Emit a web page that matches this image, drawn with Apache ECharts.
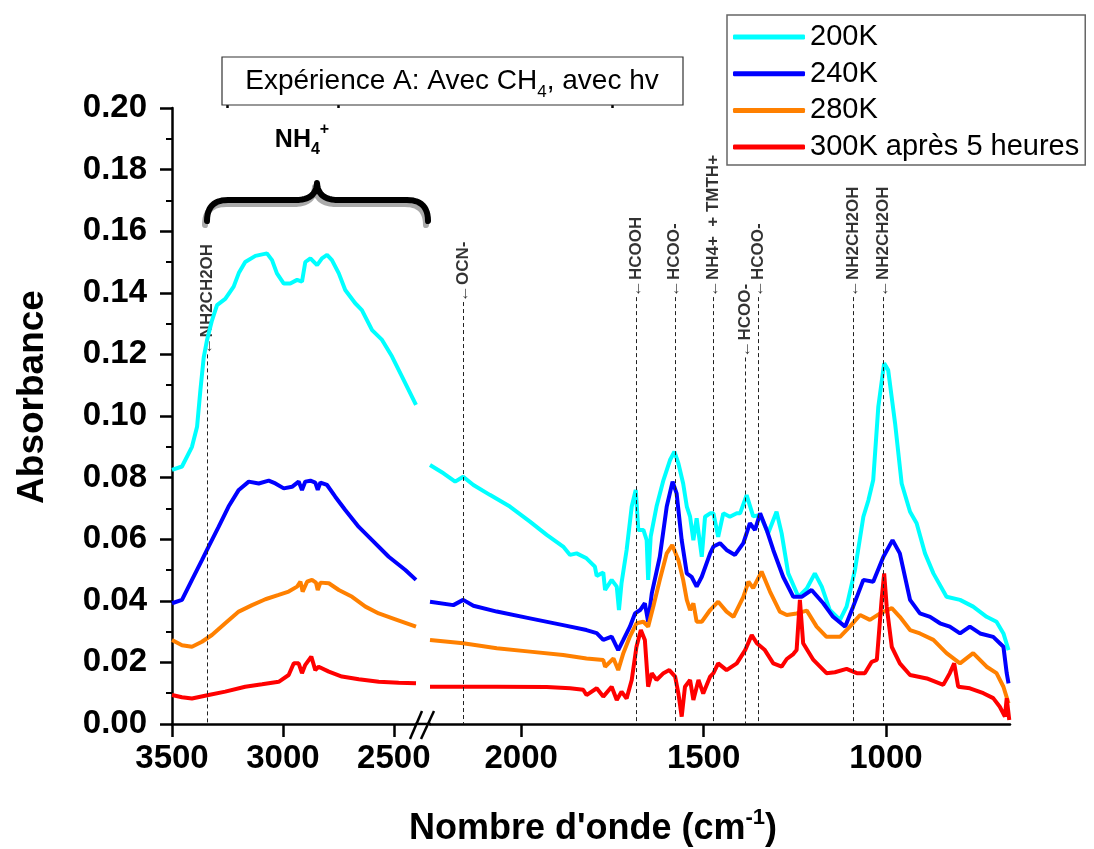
<!DOCTYPE html>
<html><head><meta charset="utf-8">
<script src="https://cdn.jsdelivr.net/npm/echarts@6/dist/echarts.min.js"></script>
<style>html,body{margin:0;padding:0;background:#fff}#c{width:1094px;height:849px}</style>
</head><body><div id="c"></div>
<script>
const seriesNames = ['200K', '240K', '280K', '300K après 5 heures'];
const seriesColors = ['#00FFFF', '#0000FF', '#FF8000', '#FF0000'];

// Left panel (3500 - 2400 cm-1): [wavenumber, absorbance]
const cyanLeft = [[3500,0.0825],[3455,0.0836],[3410,0.090],[3387,0.0965],[3372,0.1084],[3357,0.119],[3342,0.1247],[3320,0.131],[3297,0.136],[3260,0.138],[3222,0.142],[3199,0.1464],[3170,0.150],[3124,0.152],[3072,0.1528],[3049,0.1506],[3027,0.1463],[2996,0.143],[2967,0.143],[2936,0.1442],[2914,0.1436],[2899,0.150],[2876,0.1512],[2846,0.149],[2824,0.1512],[2801,0.1523],[2779,0.1506],[2748,0.1463],[2719,0.1409],[2674,0.1366],[2644,0.1344],[2598,0.1279],[2553,0.1247],[2508,0.1193],[2463,0.1128],[2400,0.1036]];
const blueLeft = [[3500,0.0392],[3455,0.0403],[3410,0.0468],[3365,0.0532],[3335,0.0576],[3290,0.064],[3245,0.0706],[3199,0.076],[3154,0.0787],[3109,0.0781],[3064,0.079],[3034,0.0781],[2996,0.0765],[2959,0.077],[2929,0.0787],[2914,0.076],[2899,0.0787],[2876,0.079],[2854,0.0784],[2843,0.076],[2831,0.0784],[2801,0.0776],[2764,0.0738],[2719,0.0695],[2658,0.064],[2598,0.0597],[2523,0.0543],[2448,0.05],[2400,0.0468]];
const orangeLeft = [[3500,0.0273],[3455,0.0256],[3410,0.0251],[3365,0.0267],[3320,0.0289],[3260,0.0327],[3199,0.0365],[3139,0.0386],[3079,0.0405],[3019,0.0419],[2974,0.043],[2936,0.0446],[2921,0.0462],[2911,0.043],[2891,0.0462],[2869,0.0468],[2851,0.0459],[2843,0.0435],[2831,0.0459],[2793,0.0457],[2748,0.0435],[2688,0.0413],[2628,0.0381],[2568,0.0359],[2493,0.034],[2400,0.0316]];
const redLeft = [[3500,0.0094],[3455,0.0087],[3410,0.0083],[3335,0.0094],[3260,0.0105],[3170,0.0121],[3094,0.0129],[3019,0.0137],[2974,0.0159],[2951,0.0197],[2929,0.0197],[2914,0.0165],[2899,0.0192],[2872,0.0219],[2854,0.0175],[2839,0.0186],[2793,0.017],[2734,0.0154],[2658,0.0145],[2568,0.0137],[2478,0.0134],[2400,0.0132]];

// Right panel (2250 - 660 cm-1)
const cyanRight = [[2250,0.0841],[2213,0.0814],[2181,0.0787],[2159,0.0803],[2131,0.0776],[2086,0.0744],[2031,0.0706],[1976,0.0657],[1930,0.0614],[1885,0.0576],[1866,0.0549],[1848,0.0554],[1821,0.0538],[1798,0.0511],[1793,0.0481],[1775,0.0492],[1770,0.0435],[1752,0.0468],[1738,0.0446],[1732,0.037],[1725,0.0457],[1711,0.0565],[1697,0.0706],[1686,0.076],[1679,0.063],[1665,0.063],[1656,0.0597],[1652,0.0468],[1645,0.0608],[1629,0.0706],[1610,0.0792],[1592,0.0857],[1580,0.0884],[1569,0.0846],[1556,0.0781],[1546,0.0706],[1537,0.0673],[1528,0.0597],[1519,0.0668],[1505,0.0543],[1496,0.0673],[1482,0.0684],[1473,0.0684],[1460,0.0608],[1446,0.0684],[1428,0.0673],[1409,0.0684],[1400,0.0684],[1382,0.0743],[1364,0.0674],[1345,0.0679],[1323,0.0619],[1300,0.0689],[1286,0.0619],[1268,0.0489],[1240,0.0413],[1217,0.044],[1195,0.0489],[1176,0.0446],[1154,0.037],[1126,0.0338],[1108,0.0381],[1085,0.05],[1062,0.0673],[1048,0.0727],[1035,0.0792],[1021,0.103],[1005,0.1171],[994,0.1149],[975,0.0976],[957,0.0781],[934,0.0689],[916,0.0652],[893,0.0554],[870,0.0489],[834,0.0413],[797,0.0403],[761,0.0381],[724,0.0348],[697,0.0332],[678,0.0294],[664,0.024]];
const blueRight = [[2250,0.0397],[2186,0.0386],[2159,0.0403],[2131,0.0384],[2067,0.0365],[1976,0.0343],[1885,0.0321],[1821,0.0305],[1793,0.0295],[1775,0.0273],[1752,0.0284],[1734,0.024],[1720,0.0273],[1702,0.0316],[1688,0.0359],[1674,0.037],[1661,0.0392],[1652,0.0332],[1642,0.0424],[1620,0.0543],[1601,0.0706],[1585,0.0787],[1574,0.0749],[1560,0.0597],[1546,0.0489],[1533,0.0478],[1519,0.0446],[1505,0.0478],[1482,0.0554],[1473,0.0576],[1455,0.0587],[1437,0.0565],[1414,0.0549],[1391,0.0587],[1373,0.0652],[1359,0.063],[1345,0.0684],[1327,0.063],[1309,0.0565],[1282,0.0478],[1254,0.0413],[1231,0.0413],[1204,0.0435],[1172,0.0392],[1145,0.0348],[1112,0.0316],[1090,0.0381],[1062,0.0468],[1035,0.0462],[1007,0.0543],[982,0.0597],[962,0.0554],[934,0.0403],[907,0.0359],[879,0.0348],[852,0.0327],[825,0.0316],[797,0.0294],[770,0.0316],[742,0.0294],[706,0.0283],[678,0.0251],[669,0.0165],[664,0.0132]];
const orangeRight = [[2250,0.0273],[2159,0.0262],[2067,0.0246],[1976,0.0235],[1885,0.0224],[1821,0.0213],[1775,0.0208],[1770,0.0186],[1747,0.0213],[1734,0.0175],[1720,0.023],[1702,0.0284],[1684,0.0327],[1665,0.0332],[1652,0.0316],[1638,0.0381],[1620,0.0468],[1601,0.0554],[1586,0.0581],[1569,0.0532],[1556,0.0468],[1546,0.0403],[1537,0.037],[1528,0.0392],[1519,0.0332],[1505,0.0332],[1482,0.037],[1473,0.0381],[1460,0.0397],[1437,0.0365],[1418,0.0348],[1391,0.0413],[1377,0.0462],[1364,0.0441],[1341,0.0495],[1318,0.043],[1291,0.0365],[1272,0.0354],[1245,0.0359],[1217,0.0368],[1190,0.0316],[1163,0.0283],[1126,0.0283],[1099,0.0316],[1071,0.0354],[1044,0.0338],[1016,0.0359],[984,0.0376],[962,0.0348],[934,0.0305],[907,0.0294],[870,0.0273],[834,0.023],[797,0.0197],[761,0.023],[724,0.0186],[697,0.0165],[678,0.0121],[664,0.0067]];
const redRight = [[2250,0.0121],[2067,0.0121],[1930,0.012],[1866,0.0116],[1830,0.0111],[1821,0.0094],[1793,0.0116],[1775,0.0089],[1752,0.0121],[1738,0.0078],[1725,0.0105],[1711,0.0083],[1697,0.0143],[1684,0.0251],[1672,0.0305],[1661,0.0273],[1652,0.0121],[1642,0.0165],[1629,0.0143],[1610,0.0165],[1594,0.0175],[1578,0.0154],[1569,0.0099],[1560,0.0024],[1551,0.0121],[1537,0.0143],[1528,0.0078],[1514,0.0143],[1501,0.0099],[1482,0.0154],[1473,0.0165],[1460,0.0197],[1437,0.0175],[1409,0.0197],[1386,0.024],[1368,0.0289],[1354,0.0262],[1332,0.024],[1309,0.0197],[1286,0.0186],[1272,0.0211],[1254,0.0227],[1245,0.024],[1236,0.0403],[1227,0.0262],[1199,0.0208],[1163,0.0165],[1140,0.0168],[1108,0.0179],[1080,0.0165],[1058,0.0165],[1039,0.0202],[1025,0.0208],[1012,0.0403],[1005,0.0489],[998,0.0381],[984,0.025],[962,0.0197],[934,0.0159],[888,0.0148],[843,0.0127],[825,0.0165],[813,0.0197],[802,0.0121],[770,0.0116],[733,0.01],[706,0.0084],[688,0.0056],[674,0.0024],[669,0.0084],[662,0.0013]];

const leftData = [cyanLeft, blueLeft, orangeLeft, redLeft];
const rightData = [cyanRight, blueRight, orangeRight, redRight];

// Axis ticks
const xTicksLeft = [3500, 3000, 2500];
const xMinorLeft = [3250, 2750];
const xTicksRight = [2000, 1500, 1000];
const xMinorRight = [1750, 1250, 750];
const xRangeLeft = [2400, 3500];
const xRangeRight = [660, 2250];
const yRange = [0, 0.2];
const yStep = 0.02;

// Peak annotations: name, wavenumber, arrow-top absorbance, panel (0 left, 1 right)
const annotNames = ['NH2CH2OH', 'OCN-', 'HCOOH', 'HCOO-', 'NH4+  + TMTH+', 'HCOO-', 'HCOO-', 'NH2CH2OH', 'NH2CH2OH'];
const annotX = [3340, 2160, 1685, 1579, 1474, 1385, 1350, 1089, 1007];
const annotTop = [0.120, 0.137, 0.1386, 0.1386, 0.1386, 0.119, 0.1386, 0.1386, 0.1386];
const annotPanel = [0, 1, 1, 1, 1, 1, 1, 1, 1];

const FONT = 'Liberation Sans, Arial, Helvetica, sans-serif';
const chart = echarts.init(document.getElementById('c'), null, {renderer: 'canvas'});

const gridTop = 108, gridBottom = 125;
const g1 = {left: 172, width: 244};
const g2 = {left: 430, width: 580};

function mainXAxis(gi, range, ticks) {
  return {
    type: 'value', gridIndex: gi, min: range[0], max: range[1], inverse: true,
    axisLine: {show: true, onZero: false, lineStyle: {color: '#000', width: 2.5}},
    axisTick: {show: true, customValues: ticks, length: 13, lineStyle: {color: '#000', width: 2.5}},
    axisLabel: {show: true, customValues: ticks, margin: 18, color: '#000', fontSize: 33, fontWeight: 'bold', fontFamily: FONT,
      formatter: v => String(v)},
    splitLine: {show: false}
  };
}
function minorXAxis(gi, range, ticks) {
  return {
    type: 'value', gridIndex: gi, min: range[0], max: range[1], inverse: true,
    axisLine: {show: false, onZero: false},
    axisTick: {show: true, customValues: ticks, length: 8, lineStyle: {color: '#000', width: 2.5}},
    axisLabel: {show: false},
    splitLine: {show: false}
  };
}

// curly brace as sampled quadratic beziers (decoration)
function quad(p0, c, p1, n) {
  const pts = [];
  for (let k = 0; k <= n; k++) {
    const t = k / n, u = 1 - t;
    pts.push([u * u * p0[0] + 2 * u * t * c[0] + t * t * p1[0], u * u * p0[1] + 2 * u * t * c[1] + t * t * p1[1]]);
  }
  return pts;
}
function bracePts(dx, dy) {
  const P = (x, y) => [x + dx, y + dy];
  return [].concat(
    quad(P(207, 221), P(207, 200), P(228, 200), 12),
    quad(P(296, 200), P(316, 200), P(317, 183), 12),
    quad(P(317, 183), P(318, 200), P(338, 200), 12),
    quad(P(407, 200), P(428, 200), P(428, 221), 12)
  );
}

const series = [];
seriesNames.forEach((n, i) => {
  series.push({name: n, type: 'line', xAxisIndex: 0, yAxisIndex: 0, data: leftData[i], showSymbol: false, symbol: 'none',
    lineStyle: {color: seriesColors[i], width: 4}, itemStyle: {color: seriesColors[i]}, z: 3, clip: true});
  series.push({name: n, type: 'line', xAxisIndex: 2, yAxisIndex: 1, data: rightData[i], showSymbol: false, symbol: 'none',
    lineStyle: {color: seriesColors[i], width: 4}, itemStyle: {color: seriesColors[i]}, z: 3, clip: true});
});

[0, 1].forEach(p => {
  const idx = annotNames.map((_, i) => i).filter(i => annotPanel[i] === p);
  series.push({
    name: 'annot' + p, type: 'scatter', xAxisIndex: p === 0 ? 0 : 2, yAxisIndex: p,
    symbolSize: 1, itemStyle: {color: 'rgba(0,0,0,0)'}, z: 2, silent: true,
    data: idx.map(i => ({value: [annotX[i], annotTop[i]], name: annotNames[i]})),
    label: {show: true, position: 'inside', rotate: 90, align: 'left', verticalAlign: 'middle',
      formatter: '\u2190{b}', color: '#000', fontSize: 17, fontWeight: 'bold', fontFamily: FONT},
    markLine: {silent: true, symbol: ['none', 'none'], label: {show: false},
      lineStyle: {color: '#222', width: 1, type: [4, 3]},
      data: idx.map(i => [{coord: [annotX[i], annotTop[i]]}, {coord: [annotX[i], 0]}])}
  });
});

const option = {
  animation: false,
  backgroundColor: '#fff',
  grid: [
    {left: g1.left, width: g1.width, top: gridTop, bottom: gridBottom, containLabel: false},
    {left: g2.left, width: g2.width, top: gridTop, bottom: gridBottom, containLabel: false}
  ],
  xAxis: [
    mainXAxis(0, xRangeLeft, xTicksLeft),
    minorXAxis(0, xRangeLeft, xMinorLeft),
    mainXAxis(1, xRangeRight, xTicksRight),
    minorXAxis(1, xRangeRight, xMinorRight)
  ],
  yAxis: [
    {type: 'value', gridIndex: 0, min: yRange[0], max: yRange[1], interval: yStep,
     axisLine: {show: true, lineStyle: {color: '#000', width: 2.5}},
     axisTick: {show: true, length: 12, lineStyle: {color: '#000', width: 2.5}},
     minorTick: {show: true, splitNumber: 2, length: 6, lineStyle: {color: '#000', width: 2}},
     axisLabel: {margin: 25, color: '#000', fontSize: 33, fontWeight: 'bold', fontFamily: FONT, formatter: v => v.toFixed(2)},
     splitLine: {show: false}, minorSplitLine: {show: false}},
    {type: 'value', gridIndex: 1, min: yRange[0], max: yRange[1], interval: yStep, show: false,
     splitLine: {show: false}}
  ],
  legend: {
    data: seriesNames, orient: 'vertical', left: 727, top: 15, icon: 'roundRect',
    itemWidth: 72, itemHeight: 5, itemGap: 6.7, selectedMode: false,
    padding: [7, 6, 3, 6], borderColor: '#666', borderWidth: 1.5, backgroundColor: '#fff',
    textStyle: {color: '#000', fontSize: 29, fontFamily: FONT, lineHeight: 30}
  },
  graphic: [
    {type: 'rect', shape: {x: 222, y: 57, width: 461, height: 48}, style: {fill: '#fff', stroke: '#333', lineWidth: 1.2}, z: 10},
    {type: 'text', x: 452, y: 81, z: 11, style: {
      text: 'Expérience A: Avec CH{s|4}, avec hv', align: 'center', verticalAlign: 'middle',
      font: '28px ' + FONT, fill: '#000',
      rich: {s: {fontSize: 17, fontFamily: FONT, fill: '#000', verticalAlign: 'bottom', lineHeight: 40}}}},
    {type: 'text', x: 302, y: 140, z: 11, style: {
      text: 'NH{s|4}{p|+}', align: 'center', verticalAlign: 'middle',
      font: 'bold 25px ' + FONT, fill: '#000',
      rich: {s: {fontSize: 16, fontWeight: 'bold', fontFamily: FONT, fill: '#000', verticalAlign: 'bottom', lineHeight: 36},
             p: {fontSize: 16, fontWeight: 'bold', fontFamily: FONT, fill: '#000', verticalAlign: 'top', lineHeight: 36}}}},
    {type: 'polyline', z: 10, shape: {points: bracePts(-2, 4)},
      style: {fill: null, stroke: '#aaa', lineWidth: 6, lineCap: 'round', lineJoin: 'round'}},
    {type: 'polyline', z: 11, shape: {points: bracePts(0, 0)},
      style: {fill: null, stroke: '#000', lineWidth: 6, lineCap: 'round', lineJoin: 'round'}},
    {type: 'text', x: 33, y: 397, rotation: Math.PI / 2, z: 11, style: {
      text: 'Absorbance', align: 'center', verticalAlign: 'middle', font: 'bold 37px ' + FONT, fill: '#000'}},
    {type: 'text', x: 593, y: 829, z: 11, style: {
      text: "Nombre d'onde (cm{p|-1})", align: 'center', verticalAlign: 'middle', font: 'bold 36px ' + FONT, fill: '#000',
      rich: {p: {fontSize: 22, fontWeight: 'bold', fontFamily: FONT, fill: '#000', verticalAlign: 'top', lineHeight: 44}}}},
    {type: 'line', z: 12, shape: {x1: 415, y1: 724, x2: 431, y2: 724}, style: {stroke: '#000', lineWidth: 2.5}},
    {type: 'line', z: 12, shape: {x1: 410, y1: 739, x2: 422, y2: 711}, style: {stroke: '#000', lineWidth: 2.5}},
    {type: 'line', z: 12, shape: {x1: 421, y1: 739, x2: 434, y2: 711}, style: {stroke: '#000', lineWidth: 2.5}}
  ],
  series: series
};
chart.setOption(option);
</script>
</body></html>
